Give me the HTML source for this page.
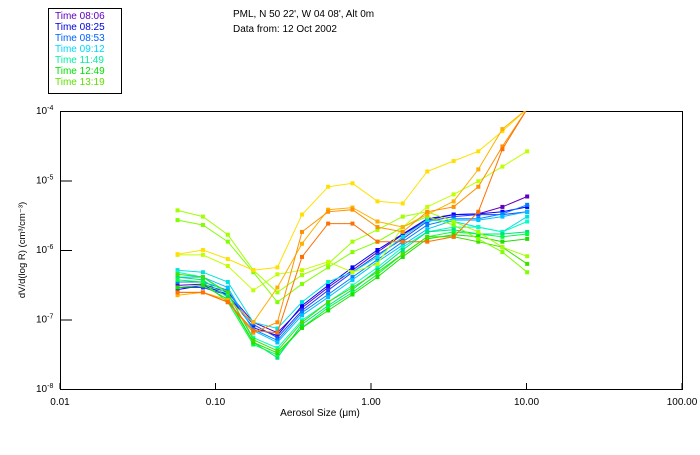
<!DOCTYPE html>
<html><head><meta charset="utf-8"><style>
body{margin:0;background:#fff;}
svg text{font-family:"Liberation Sans",sans-serif;font-size:10px;}
</style></head><body>
<svg width="700" height="450" viewBox="0 0 700 450">
<rect width="700" height="450" fill="#fff"/>
<g>
<rect x="48.5" y="8.5" width="73" height="85" fill="none" stroke="#000"/>
<g id="legendItems"></g>
</g>
<text x="233" y="17">PML, N 50 22', W 04 08', Alt 0m</text>
<text x="233" y="32">Data from: 12 Oct 2002</text>
<defs><clipPath id="pc"><rect x="60" y="111" width="622" height="278"/></clipPath></defs>
<g id="axes"></g>
<g id="series" clip-path="url(#pc)"></g>
<text transform="translate(25,250) rotate(-90)" text-anchor="middle" style="font-size:9.5px">dV/d(log R) (cm³/cm⁻³)</text>
<text x="320" y="416" text-anchor="middle">Aerosol Size (μm)</text>
</svg>
<script>
const sizes=[0.057,0.083,0.12,0.175,0.25,0.36,0.53,0.76,1.1,1.6,2.3,3.4,4.9,7.0,10.1];
const xTickLabels=["0.01","0.10","1.00","10.00","100.00"];
const yTickLabels=["-4","-5","-6","-7","-8"];
const legendLabels=["Time 08:06","Time 08:25","Time 08:53","Time 09:12","Time 11:49","Time 12:49","Time 13:19"];
const legendColors=["#6000c0","#0000e0","#0060ff","#00d8ff","#00f0a0","#00e000","#60e000"];
const seriesColors=["#6000c0","#0000ff","#2040ff","#0080ff","#00c0ff","#00e0e0","#00ffc0","#00e080","#00ff40","#20e000","#40e000","#80ff00","#a0ff00","#c0ff00","#ffe000","#ffb000","#ff9000","#ff7000"];
const s1=[-6.51,-6.49,-6.61,-7.04,-7.19,-6.83,-6.54,-6.29,-6.03,-5.78,-5.57,-5.49,-5.48,-5.38,-5.23];
const s2=[-6.57,-6.51,-6.64,-7.12,-7.23,-6.80,-6.51,-6.25,-6.00,-5.77,-5.55,-5.49,-5.48,-5.45,-5.38];
const s3=[-6.54,-6.54,-6.65,-7.07,-7.26,-6.87,-6.58,-6.32,-6.07,-5.84,-5.59,-5.52,-5.49,-5.49,-5.45];
const s4=[-6.46,-6.46,-6.58,-7.14,-7.30,-6.90,-6.64,-6.39,-6.14,-5.88,-5.64,-5.55,-5.55,-5.48,-5.35];
const s5=[-6.39,-6.39,-6.54,-7.16,-7.33,-6.94,-6.68,-6.43,-6.17,-5.93,-5.70,-5.57,-5.57,-5.52,-5.45];
const s6=[-6.29,-6.32,-6.46,-7.04,-7.13,-6.75,-6.46,-6.32,-6.10,-5.81,-5.57,-5.59,-5.67,-5.74,-5.52];
const s7=[-6.32,-6.39,-6.64,-7.26,-7.41,-7.01,-6.75,-6.51,-6.25,-5.96,-5.74,-5.67,-5.67,-5.74,-5.59];
const s8=[-6.39,-6.43,-6.68,-7.33,-7.55,-7.07,-6.80,-6.57,-6.29,-6.00,-5.74,-5.71,-5.77,-5.77,-5.74];
const s9=[-6.43,-6.46,-6.75,-7.36,-7.51,-7.12,-6.83,-6.61,-6.35,-6.06,-5.81,-5.74,-5.77,-5.81,-5.77];
const s10=[-6.54,-6.51,-6.71,-7.33,-7.48,-7.12,-6.87,-6.64,-6.39,-6.10,-5.84,-5.78,-5.81,-5.88,-5.84];
const s11=[-6.35,-6.39,-6.61,-7.29,-7.45,-7.04,-6.75,-6.54,-6.32,-6.06,-5.81,-5.81,-5.88,-5.96,-6.20];
const s12=[-5.57,-5.64,-5.88,-6.32,-6.75,-6.49,-6.25,-6.03,-5.88,-5.67,-5.52,-5.64,-5.84,-6.03,-6.32];
const s13=[-5.43,-5.52,-5.78,-6.29,-6.61,-6.36,-6.20,-5.88,-5.71,-5.52,-5.45,-5.59,-5.74,-5.96,-6.09];
const s14=[-6.07,-6.07,-6.23,-6.58,-6.35,-6.29,-6.17,-6.32,-6.20,-5.67,-5.38,-5.20,-5.01,-4.80,-4.58];
const s15=[-6.06,-6.00,-6.13,-6.29,-6.25,-5.49,-5.09,-5.04,-5.30,-5.33,-4.87,-4.72,-4.58,-4.29,-3.97];
const s16=[-6.65,-6.61,-6.72,-7.04,-6.54,-5.91,-5.42,-5.39,-5.59,-5.67,-5.49,-5.30,-4.84,-4.26,-3.97];
const s17=[-6.61,-6.61,-6.75,-7.19,-7.04,-5.74,-5.45,-5.42,-5.67,-5.74,-5.45,-5.38,-5.09,-4.51,-3.97];
const s18=[-6.61,-6.61,-6.75,-7.16,-7.19,-6.10,-5.62,-5.62,-5.88,-5.88,-5.88,-5.81,-5.45,-4.55,-3.97];
const allSeries=[s1,s2,s3,s4,s5,s6,s7,s8,s9,s10,s11,s12,s13,s14,s15,s16,s17,s18];

const NS="http://www.w3.org/2000/svg";
const X0=60,X1=682,Y0=111,Y1=389;
function xs(v){return X0+(Math.log10(v)+2)/4*(X1-X0);}
function ys(logv){return Y0+(-4-logv)/4*(Y1-Y0);}
function mk(tag,attrs,parent){const e=document.createElementNS(NS,tag);for(const k in attrs)e.setAttribute(k,attrs[k]);parent.appendChild(e);return e;}

const axes=document.getElementById('axes');
const frame=mk('rect',{x:X0+.5,y:Y0+.5,width:X1-X0,height:Y1-Y0,fill:'none',stroke:'#000'},axes);


xTickLabels.forEach((lab,i)=>{
  const x=xs(Math.pow(10,i-2));
  const t=mk('line',{x1:x,x2:x,y1:Y1,y2:Y1-6,stroke:'#000'},axes);
  
  
  const tx=mk('text',{x:x,y:Y1+16,'text-anchor':'middle'},axes);
  tx.textContent=lab;
  
  
});
yTickLabels.forEach((lab,i)=>{
  const y=ys(Number(lab));
  const t=mk('line',{x1:X0,x2:X0+12,y1:y+.5,y2:y+.5,stroke:'#000'},axes);
  
  
  const tx=mk('text',{x:36,y:y+3},axes);
  tx.textContent='10';
  
  
  const ts=mk('tspan',{dy:-4,'font-size':'7px'},tx);
  ts.textContent=lab;
});

const lg=document.getElementById('legendItems');
legendLabels.forEach((lab,i)=>{
  const t=mk('text',{x:55,y:19+i*11,fill:legendColors[i]},lg);
  t.textContent=lab;
  
  
});

const sg=document.getElementById('series');
allSeries.forEach((ser,si)=>{
  const g=mk('g',{},sg);
  
  
  const pts=ser.map((v,i)=>xs(sizes[i]).toFixed(1)+','+ys(v).toFixed(1)).join(' ');
  mk('polyline',{points:pts,fill:'none',stroke:seriesColors[si],'stroke-width':1},g);
  ser.forEach((v,i)=>{
    const p=mk('rect',{x:xs(sizes[i])-2,y:ys(v)-2,width:4,height:4,fill:seriesColors[si]},g);
    
    
  });
});
</script>
</body></html>
